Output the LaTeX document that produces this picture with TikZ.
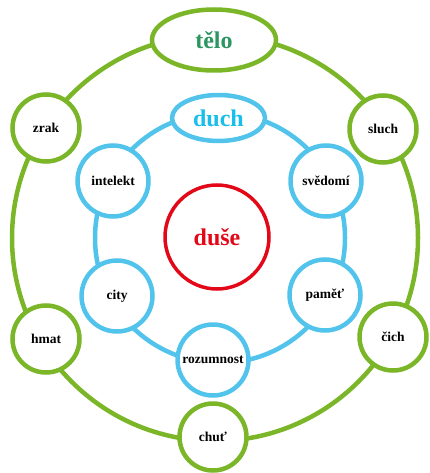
\documentclass[tikz,border=0pt]{standalone}
\usepackage{fontspec}
\setmainfont{Liberation Serif}
\usepackage{tikz}
\usetikzlibrary{shapes.geometric}

\definecolor{zelena}{RGB}{122,182,40}
\definecolor{modra}{RGB}{82,196,236}
\definecolor{cervena}{RGB}{226,8,24}
\definecolor{zelenytext}{RGB}{44,150,98}
\definecolor{modrytext}{RGB}{24,190,236}

\tikzset{
	telo/.style={circle, draw=zelena, line width=4.5pt, fill=white, inner sep=0pt,
		minimum size=67pt, font=\fontsize{13.5}{15}\selectfont\bfseries},
	duch/.style={circle, draw=modra, line width=4.5pt, fill=white, inner sep=0pt,
		minimum size=71pt, font=\fontsize{13.5}{15}\selectfont\bfseries},
	hlavni/.style={ellipse, fill=white, inner sep=0pt, font=\fontsize{24}{26}\selectfont\bfseries},
}

\begin{document}
\begin{tikzpicture}[x=1pt, y=-1pt]
	\useasboundingbox (0,0) rectangle (429,473);
	\coordinate (stredT) at (215,238);
	\coordinate (stredD) at (220,238);

	% kruhy
	\draw[zelena, line width=4.5pt] (stredT) circle[radius=203pt];
	\draw[modra, line width=4.5pt] (stredD) circle[radius=125pt];

	% telo
	\node [hlavni, draw=zelena, line width=4.5pt, text=zelenytext,
		minimum width=124pt, minimum height=61pt] (tl) at (214,40) {tělo};
	\node [telo] (zrak) at (46,128) {zrak};
	\node [telo] (sluch) at (383,129) {sluch};
	\node [telo] (hmat) at (46,339) {hmat};
	\node [telo] (cich) at (393,337) {čich};
	\node [telo] (chut) at (213,437) {chuť};

	% duch
	\node [hlavni, draw=modra, line width=4.5pt, text=modrytext,
		minimum width=93pt, minimum height=46pt] (dh) at (218.5,118) {duch};
	\node [duch] (intelekt) at (113,181) {intelekt};
	\node [duch] (svedomi) at (326,181) {svědomí};
	\node [duch] (city) at (117,296) {city};
	\node [duch] (pamet) at (325,295) {paměť};
	\node [duch] (rozumnost) at (213,360) {rozumnost};

	% duse
	\node [circle, draw=cervena, line width=3.5pt, text=cervena, inner sep=0pt,
		minimum size=104pt, font=\fontsize{24}{26}\selectfont\bfseries] (duse) at (217,237) {duše};
\end{tikzpicture}
\end{document}
